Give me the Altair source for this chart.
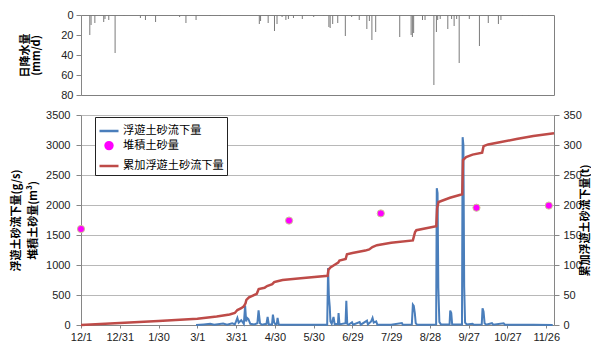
import altair as alt
import pandas as pd

FONT_NUM = "Liberation Sans"
FONT_JP = "Noto Sans CJK JP"

# x axis: days since 12/1
x_tick_days = [0, 30, 60, 90, 120, 150, 180, 210, 240, 270, 300, 330, 360]
x_labels = ["12/1", "12/31", "1/30", "3/1", "3/31", "4/30", "5/30",
            "6/29", "7/29", "8/28", "9/27", "10/27", "11/26"]

# daily precipitation (mm/d)
rain_day = [3, 4, 7, 14, 15, 18, 23, 30, 43, 47, 55, 74, 79, 87, 98, 106,
            137, 138, 144, 149, 151, 155, 158, 160, 164, 171, 180, 188,
            192, 193, 195, 199, 205, 210, 216, 222, 224, 226, 229, 248,
            257, 258, 259, 266, 268, 275, 277, 278, 280, 286, 289, 291,
            293, 295, 303, 311, 318, 326, 328, 345, 350]
rain_mm = [20, 10, 8, 7, 4, 5, 38, 1, 3, 5, 7, 2, 8, 5, 1, 1,
           9, 6, 8, 16, 9, 2, 5, 4, 3, 4, 2, 1,
           12, 13, 9, 8, 21, 2, 5, 14, 6, 25, 17, 22,
           20, 22, 18, 5, 5, 70, 17, 5, 4, 14, 4, 11,
           4, 48, 4, 31, 8, 9, 5, 1, 1]

# suspended sediment discharge (g/s)
flow_day = [89, 95, 100, 103, 110, 113, 117, 119, 120, 121, 122, 124, 126, 127,
            127.8, 128.5, 129.5, 131, 134, 136.5, 137.4, 138.5, 140, 143.5, 144.4,
            145.3, 147.8, 148.5, 149.5, 150.5, 151.5, 152.1, 153, 155, 160, 170,
            180, 190.5, 191.2, 191.8, 192.5, 193, 194, 195.4, 196.3, 198.8, 199.3,
            200, 204.7, 205.3, 206, 207, 209.7, 210.5, 215.6, 216.5, 221.3, 222,
            224.5, 225.6, 226.5, 228.4, 229.3, 240, 248.3, 249, 256, 256.8, 257.5,
            258.3, 259, 260, 270, 274.8, 275.3, 275.9, 276.5, 277.3, 278.5, 285.2,
            285.7, 286.5, 287.2, 294.8, 295.3, 295.9, 296.5, 297.2, 298.5, 303, 304,
            310.1, 310.7, 311.5, 312.3, 313.5, 318, 319, 327, 328, 340, 350, 365]
flow_val = [0, 10, 20, 5, 25, 5, 30, 10, 60, 117, 40, 80, 20, 322,
            60, 120, 100, 20, 10, 30, 245, 30, 5, 20, 133,
            10, 10, 172, 40, 10, 20, 117, 10, 5, 5, 3,
            5, 5, 950, 480, 300, 60, 20, 133, 10, 20, 200,
            10, 30, 405, 20, 5, 45, 5, 50, 5, 72, 10,
            60, 117, 40, 60, 5, 5, 33, 5, 10, 340, 320,
            200, 30, 5, 5, 10, 2280, 2200, 615, 50, 10, 10,
            240, 200, 10, 10, 3130, 3000, 640, 40, 10, 20, 5,
            10, 277, 220, 30, 5, 30, 5, 30, 5, 5, 3, 0]

# cumulative suspended sediment (t)
cum_day = [0, 30, 60, 90, 105, 115, 119, 121, 124, 126, 127.3, 128, 130, 133,
           136, 137.5, 142, 144, 148, 149.5, 152, 156, 170, 190.8, 191.5, 193,
           196, 199, 200, 204.8, 205.8, 210, 220, 223, 225.5, 229, 240, 256.8,
           258.5, 259.5, 274.9, 275.6, 276.7, 285.5, 295, 295.6, 298, 303, 310.4,
           311.5, 315, 325, 337, 350, 366]
cum_val = [0, 3.5, 6.5, 10.5, 14, 17.5, 20, 25, 28, 31, 36, 42, 46, 49,
           52, 60, 62, 65, 68, 71.5, 73, 75, 78, 82, 92, 96,
           100, 104, 107.5, 110, 118, 120, 124, 126, 130, 133, 137, 141,
           155, 158, 164.5, 195, 205, 212, 218, 275, 280, 284, 287,
           298, 301, 305, 310, 315, 319.5]

# deposited sediment (m3)
dep_day = [0, 161, 232, 306, 362]
dep_val = [1600, 1740, 1860, 1955, 1990]

S_FLOW = "浮遊土砂流下量"
S_DEP = "堆積土砂量"
S_CUM = "累加浮遊土砂流下量"
SERIES = [S_FLOW, S_DEP, S_CUM]

rain_df = pd.DataFrame({"day": rain_day, "mm": rain_mm})
flow_df = pd.DataFrame({"day": flow_day, "v": flow_val, "series": S_FLOW})
dep_df = pd.DataFrame({"day": dep_day, "v": dep_val, "series": S_DEP})
cum_df = pd.DataFrame({"day": cum_day, "t": cum_val, "series": S_CUM})

XDOM = [0, 366]
label_expr = "[" + ",".join("'%s'" % s for s in x_labels) + "][round(datum.value/30)]"

GRID = "#B8B8B8"
AXC = "#868686"

top = alt.Chart(rain_df).mark_bar(width=1, color="#7A7A7A").encode(
    x=alt.X("day:Q", scale=alt.Scale(domain=XDOM, nice=False, zero=False), axis=None),
    y=alt.Y("mm:Q", scale=alt.Scale(domain=[0, 80], reverse=True, nice=False),
            axis=alt.Axis(values=[0, 20, 40, 60, 80], grid=False, tickSize=5,
                          tickColor=AXC, domainColor=AXC, labelPadding=3,
                          labelFont=FONT_NUM, labelFontSize=11, labelColor="#222",
                          title=["日降水量", "(mm/d)"], titleFont=FONT_JP,
                          titleFontSize=11, titleFontWeight="bold", titleColor="#000",
                          titleLineHeight=11, titlePadding=19)),
).properties(width=473, height=80, view=alt.ViewBackground(stroke="#808080"))

xenc = alt.X("day:Q", scale=alt.Scale(domain=XDOM, nice=False, zero=False),
             axis=alt.Axis(values=x_tick_days, labelExpr=label_expr, grid=False,
                           tickSize=3, tickColor=AXC, domainColor=AXC,
                           labelFont=FONT_NUM, labelFontSize=11, labelColor="#222",
                           labelFlush=False, labelOverlap=False, labelPadding=3,
                           title=None))

legend = alt.Legend(title=None, orient="none", legendX=14, legendY=102,
                    fillColor="white", strokeColor="#222", padding=3,
                    labelFont=FONT_JP, labelFontSize=11.2, labelColor="#000",
                    labelOffset=3, rowPadding=0, symbolStrokeWidth=2.5,
                    symbolOpacity=1)
color = alt.Color("series:N",
                  scale=alt.Scale(domain=SERIES,
                                  range=["#4A7EBB", "#FF00FF", "#BE4B48"]),
                  legend=legend)
shape = alt.Shape("series:N",
                  scale=alt.Scale(domain=SERIES, range=["stroke", "circle", "stroke"]),
                  legend=legend)
size = alt.Size("series:N",
                scale=alt.Scale(type="ordinal", domain=SERIES, range=[361, 48, 361]),
                legend=legend)

left_axis = alt.Axis(values=list(range(0, 3501, 500)), format="d", grid=True, gridColor=GRID,
                     tickSize=5, tickColor=AXC, domainColor=AXC, labelPadding=6,
                     labelFont=FONT_NUM, labelFontSize=11, labelColor="#222",
                     title=["浮遊土砂流下量(g/s)", "堆積土砂量(m³)"], titleFont=FONT_JP,
                     titleFontSize=11, titleFontWeight="bold", titleColor="#000",
                     titleLineHeight=17, titlePadding=7)
yleft = alt.Y("v:Q", scale=alt.Scale(domain=[0, 3500], nice=False), axis=left_axis)

flow = alt.Chart(flow_df).mark_line(strokeWidth=2).encode(x=xenc, y=yleft, color=color)
dep = alt.Chart(dep_df).mark_point(filled=True, opacity=1).encode(
    x=xenc, y=yleft, color=color, shape=shape, size=size)
dep_ring = alt.Chart(dep_df).mark_point(filled=False, opacity=1, size=52,
                                        color="#CDBE94", strokeWidth=1).encode(
    x=xenc, y=yleft)

right_axis = alt.Axis(orient="right", values=list(range(0, 351, 50)), grid=False,
                      tickSize=5, tickColor=AXC, domainColor=AXC, labelPadding=4,
                      labelFont=FONT_NUM, labelFontSize=11, labelColor="#222",
                      title="累加浮遊土砂流下量(t)", titleFont=FONT_JP, titleAngle=270,
                      titleFontSize=11, titleFontWeight="bold", titleColor="#000",
                      titlePadding=9)
cum = alt.Chart(cum_df).mark_line(strokeWidth=2.5).encode(
    x=xenc, y=alt.Y("t:Q", scale=alt.Scale(domain=[0, 350], nice=False), axis=right_axis),
    color=color)

bottom = alt.layer(alt.layer(flow, dep, dep_ring), cum).resolve_scale(y="independent").properties(
    width=473, height=210, view=alt.ViewBackground(stroke=None))

chart = alt.vconcat(top, bottom, spacing=20, bounds="flush").properties(
    padding={"left": 2, "top": 0, "right": 0, "bottom": 0}
).configure_view(strokeWidth=1)

chart.save("out.html", embed_options={"renderer": "svg", "actions": False})
